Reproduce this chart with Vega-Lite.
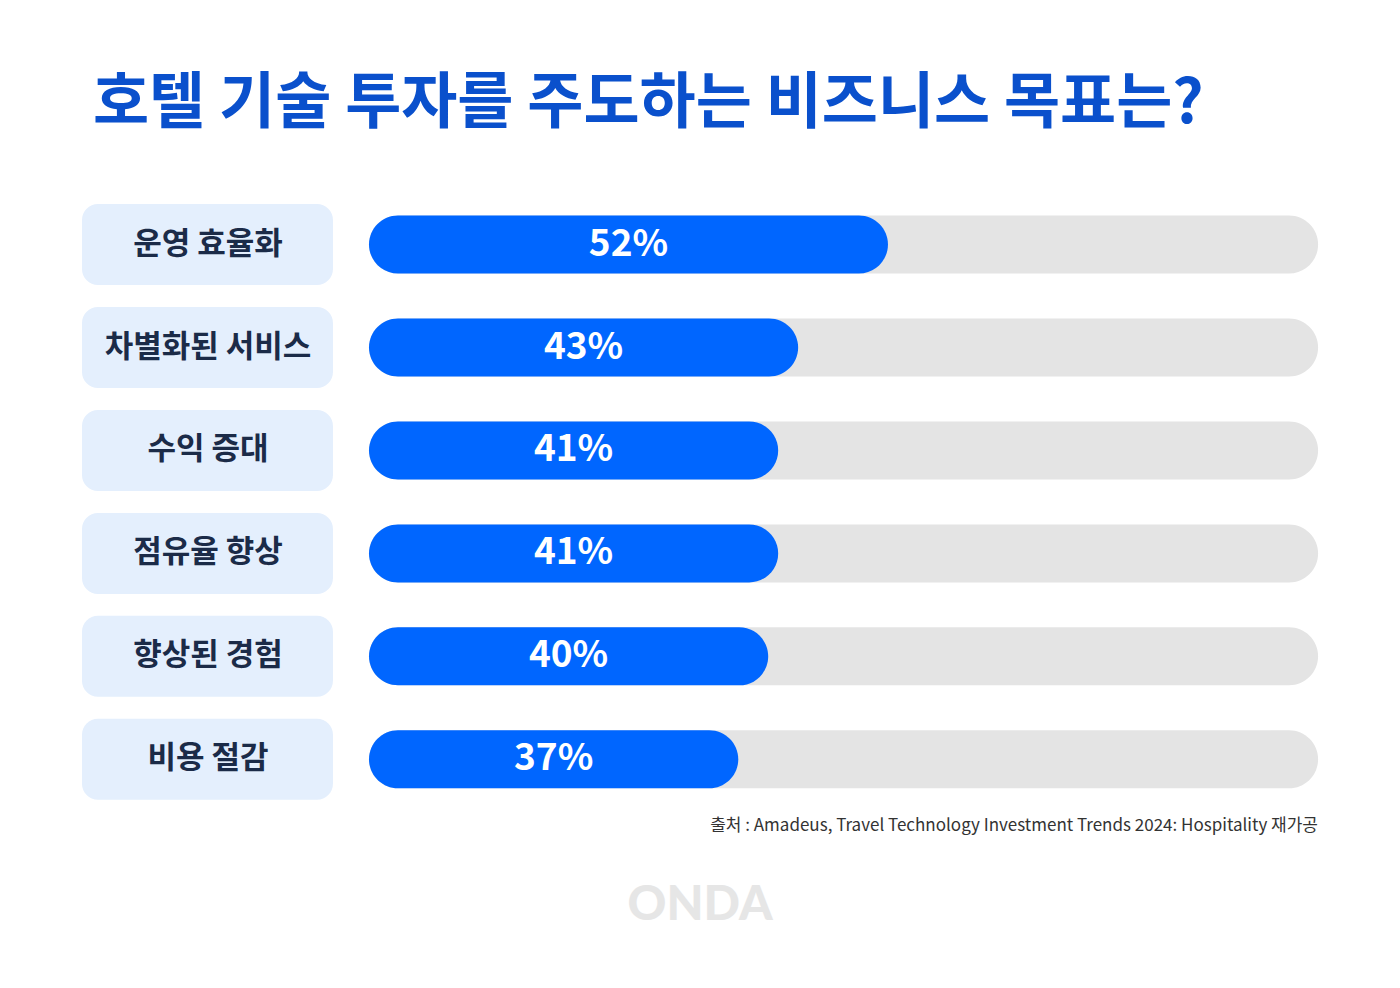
{
  "$schema": "https://vega.github.io/schema/vega-lite/v6.json",
  "width": 1400,
  "height": 988,
  "padding": 0,
  "autosize": {"type": "none"},
  "background": "#ffffff",
  "config": {"view": {"stroke": null}},
  "datasets": {
    "rows": [
      {"goal": "운영 효율화", "value": 52, "label": "52%", "rank": 1},
      {"goal": "차별화된 서비스", "value": 43, "label": "43%", "rank": 2},
      {"goal": "수익 증대", "value": 41, "label": "41%", "rank": 3},
      {"goal": "점유율 향상", "value": 41, "label": "41%", "rank": 4},
      {"goal": "향상된 경험", "value": 40, "label": "40%", "rank": 5},
      {"goal": "비용 절감", "value": 37, "label": "37%", "rank": 6}
    ],
    "notes": [
      {"text": "호텔 기술 투자를 주도하는 비즈니스 목표는?", "kind": "title"},
      {"text": "출처 : Amadeus, Travel Technology Investment Trends 2024: Hospitality 재가공", "kind": "source"},
      {"text": "ONDA", "kind": "logo"}
    ]
  },
  "resolve": {"scale": {"x": "independent"}},
  "layer": [
    {
      "data": {"name": "rows"},
      "mark": {"type": "bar", "orient": "horizontal", "size": 81, "cornerRadius": 16, "color": "#e4effd"},
      "encoding": {
        "x": {"datum": -3.61, "type": "quantitative", "scale": {"domain": [-36.974, 103.307], "nice": false, "zero": false}, "axis": null},
        "x2": {"datum": -28.76},
        "y": {"field": "rank", "type": "quantitative", "scale": {"domain": [-1.327, 8.173], "nice": false, "zero": false, "reverse": true}, "axis": null}
      }
    },
    {
      "data": {"name": "rows"},
      "mark": {"type": "bar", "orient": "horizontal", "size": 58, "cornerRadius": 29, "color": "#e4e4e4"},
      "encoding": {
        "x": {"datum": 95.1, "type": "quantitative", "scale": {"domain": [-36.974, 103.307], "nice": false, "zero": false}, "axis": null},
        "x2": {"datum": 0},
        "y": {"field": "rank", "type": "quantitative", "scale": {"domain": [-1.327, 8.173], "nice": false, "zero": false, "reverse": true}, "axis": null}
      }
    },
    {
      "data": {"name": "rows"},
      "mark": {"type": "bar", "orient": "horizontal", "size": 58, "cornerRadius": 29, "color": "#0066ff"},
      "encoding": {
        "x": {"field": "value", "type": "quantitative", "scale": {"domain": [-36.974, 103.307], "nice": false, "zero": false}, "axis": null},
        "x2": {"datum": 0},
        "y": {"field": "rank", "type": "quantitative", "scale": {"domain": [-1.327, 8.173], "nice": false, "zero": false, "reverse": true}, "axis": null}
      }
    },
    {
      "data": {"name": "rows"},
      "mark": {"type": "text", "align": "center", "baseline": "middle", "font": "Noto Sans CJK KR", "fontWeight": "bold", "fontSize": 31, "color": "#1b2b48"},
      "encoding": {
        "x": {"datum": -16.13, "type": "quantitative", "scale": {"domain": [-36.974, 103.307], "nice": false, "zero": false}, "axis": null},
        "y": {"field": "rank", "type": "quantitative", "scale": {"domain": [-1.327, 8.173], "nice": false, "zero": false, "reverse": true}, "axis": null},
        "text": {"field": "goal"}
      }
    },
    {
      "data": {"name": "rows"},
      "mark": {"type": "text", "align": "center", "baseline": "middle", "font": "Noto Sans CJK KR", "fontWeight": "bold", "fontSize": 37, "color": "#ffffff"},
      "encoding": {
        "x": {"field": "value", "type": "quantitative", "scale": {"domain": [-73.948, 206.614], "nice": false, "zero": false}, "axis": null},
        "y": {"field": "rank", "type": "quantitative", "scale": {"domain": [-1.327, 8.173], "nice": false, "zero": false, "reverse": true}, "axis": null},
        "text": {"field": "label"}
      }
    },
    {
      "data": {"name": "notes"},
      "transform": [{"filter": "datum.kind === 'title'"}],
      "mark": {"type": "text", "align": "left", "baseline": "middle", "font": "Noto Sans CJK KR", "fontWeight": "bold", "fontSize": 61, "color": "#0a50cc"},
      "encoding": {
        "x": {"datum": -27.66, "type": "quantitative", "scale": {"domain": [-36.974, 103.307], "nice": false, "zero": false}, "axis": null},
        "y": {"datum": -0.356, "type": "quantitative", "scale": {"domain": [-1.327, 8.173], "nice": false, "zero": false, "reverse": true}, "axis": null},
        "text": {"field": "text"}
      }
    },
    {
      "data": {"name": "notes"},
      "transform": [{"filter": "datum.kind === 'source'"}],
      "mark": {"type": "text", "align": "right", "baseline": "middle", "font": "Noto Sans CJK KR", "fontSize": 17, "color": "#333333"},
      "encoding": {
        "x": {"datum": 95.09, "type": "quantitative", "scale": {"domain": [-36.974, 103.307], "nice": false, "zero": false}, "axis": null},
        "y": {"datum": 6.644, "type": "quantitative", "scale": {"domain": [-1.327, 8.173], "nice": false, "zero": false, "reverse": true}, "axis": null},
        "text": {"field": "text"}
      }
    },
    {
      "data": {"name": "notes"},
      "transform": [{"filter": "datum.kind === 'logo'"}],
      "mark": {"type": "text", "align": "center", "baseline": "middle", "font": "Lato", "fontWeight": 900, "fontSize": 48, "color": "#e6e6e6"},
      "encoding": {
        "x": {"datum": 33.17, "type": "quantitative", "scale": {"domain": [-36.974, 103.307], "nice": false, "zero": false}, "axis": null},
        "y": {"datum": 7.423, "type": "quantitative", "scale": {"domain": [-1.327, 8.173], "nice": false, "zero": false, "reverse": true}, "axis": null},
        "text": {"field": "text"}
      }
    }
  ]
}
